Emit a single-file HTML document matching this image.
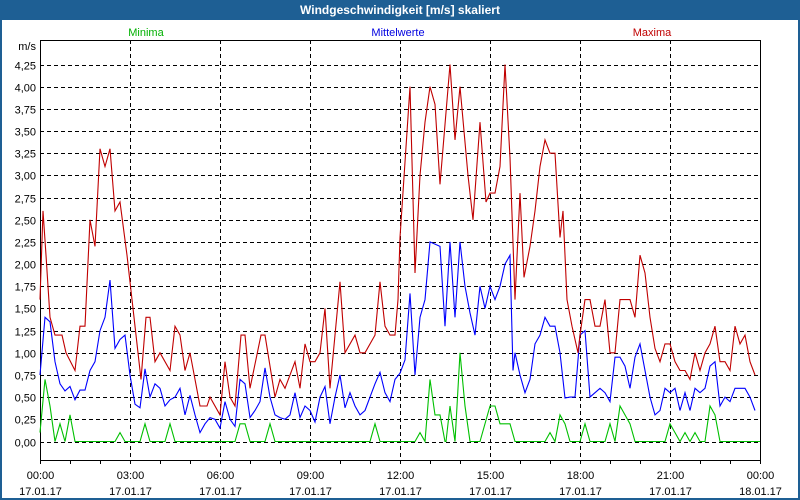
<!DOCTYPE html>
<html><head><meta charset="utf-8"><style>
html,body{margin:0;padding:0;background:#fff}
#wrap{position:relative;width:800px;height:500px;box-sizing:border-box;border:2px solid #1e5f94;border-top:none;background:#fff;overflow:hidden}
#title{position:absolute;left:0;top:0;width:796px;height:20px;background:#1e5f94;color:#fff;font:bold 12px "Liberation Sans",sans-serif;text-align:center;line-height:20px}
svg{position:absolute;left:-2px;top:0}
text{font-family:"Liberation Sans",sans-serif;font-size:11px}
</style></head><body>
<div id="wrap">
<div id="title">Windgeschwindigkeit [m/s] skaliert</div>
<svg id="chart" width="800" height="500"></svg>
</div>
<script>
const yTicks=[0,0.25,0.5,0.75,1,1.25,1.5,1.75,2,2.25,2.5,2.75,3,3.25,3.5,3.75,4,4.25];
const xTickHours=[0,3,6,9,12,15,18,21,24];
const xTickTimes=["00:00","03:00","06:00","09:00","12:00","15:00","18:00","21:00","00:00"];
const xTickDates=["17.01.17","17.01.17","17.01.17","17.01.17","17.01.17","17.01.17","17.01.17","17.01.17","18.01.17"];
const maxT=[0,6,12,20,30,44,52,70,80,90,100,110,120,130,140,150,160,174,186,202,212,220,230,240,260,270,280,290,300,320,334,340,360,370,380,390,402,410,420,442,450,470,480,490,510,520,530,540,550,560,570,580,600,610,630,640,650,670,680,690,700,710,716,720,740,750,760,770,780,790,800,820,830,840,856,866,880,892,900,910,920,930,940,950,960,968,980,990,1000,1010,1020,1030,1040,1046,1054,1064,1076,1080,1090,1100,1110,1120,1130,1140,1150,1160,1180,1190,1200,1210,1220,1230,1240,1250,1260,1270,1280,1290,1300,1310,1320,1330,1340,1350,1360,1370,1380,1390,1400,1410,1420,1430];
const maxV=[1.6,2.6,2.1,1.4,1.2,1.2,1.0,0.8,1.3,1.3,2.5,2.2,3.3,3.1,3.3,2.6,2.7,2.1,1.5,0.7,1.4,1.4,0.9,1.0,0.8,1.3,1.2,0.8,1.0,0.4,0.4,0.5,0.3,0.9,0.5,0.4,1.2,1.2,0.6,1.2,1.2,0.5,0.7,0.6,0.9,0.6,1.1,0.9,0.9,1.0,1.5,0.6,1.8,1.0,1.2,1.0,1.0,1.2,1.8,1.3,1.2,1.2,1.6,2.3,4.0,1.9,3.0,3.6,4.0,3.8,2.9,4.25,3.4,4.0,3.0,2.5,3.6,2.7,2.8,2.8,3.1,4.25,3.2,1.6,2.8,1.85,2.2,2.6,3.1,3.4,3.25,3.25,2.3,2.6,1.6,1.3,1.0,1.2,1.6,1.6,1.3,1.3,1.6,1.0,1.0,1.6,1.6,1.4,2.1,1.9,1.4,1.05,0.9,1.1,1.1,0.9,0.8,0.8,0.7,1.0,0.8,1.0,1.1,1.3,0.9,0.9,0.8,1.3,1.1,1.2,0.9,0.75];
const meanT=[0,10,20,30,40,50,60,70,80,90,100,110,120,130,140,150,160,170,180,190,200,210,220,230,240,250,260,270,280,290,300,310,320,330,340,350,360,370,380,390,400,410,420,430,440,450,460,470,480,490,500,510,520,530,540,550,560,570,580,590,600,610,620,630,640,650,660,670,680,690,700,710,720,730,740,750,760,770,780,800,810,820,830,840,850,860,870,880,890,900,910,920,930,940,946,950,960,970,980,990,1000,1010,1020,1030,1040,1050,1060,1070,1080,1090,1100,1110,1120,1130,1140,1150,1160,1170,1180,1190,1200,1210,1220,1230,1240,1250,1260,1270,1280,1290,1300,1310,1320,1330,1340,1350,1360,1370,1380,1390,1400,1410,1420,1430];
const meanV=[0.75,1.4,1.35,0.9,0.65,0.57,0.62,0.47,0.58,0.58,0.8,0.9,1.25,1.4,1.82,1.05,1.15,1.2,0.75,0.42,0.38,0.82,0.5,0.65,0.6,0.4,0.47,0.5,0.6,0.3,0.52,0.3,0.1,0.2,0.27,0.25,0.15,0.45,0.25,0.17,0.7,0.65,0.27,0.35,0.45,0.83,0.5,0.3,0.27,0.25,0.3,0.55,0.27,0.4,0.35,0.22,0.5,0.62,0.2,0.5,0.75,0.38,0.55,0.4,0.3,0.35,0.5,0.65,0.78,0.55,0.45,0.7,0.77,0.92,1.67,0.75,1.4,1.6,2.25,2.2,1.3,2.25,1.4,2.25,1.75,1.45,1.2,1.75,1.5,1.75,1.6,1.75,2.0,2.1,0.8,1.0,0.75,0.55,0.7,1.1,1.2,1.4,1.3,1.3,1.0,0.49,0.5,0.5,1.2,1.25,0.5,0.55,0.6,0.55,0.45,0.95,0.95,0.85,0.6,0.95,1.1,0.8,0.5,0.3,0.35,0.6,0.55,0.6,0.35,0.55,0.35,0.6,0.55,0.6,0.85,0.9,0.4,0.5,0.45,0.6,0.6,0.6,0.5,0.35];
const minT=[0,10,20,30,40,50,60,70,80,150,160,170,200,210,220,250,260,270,390,400,410,420,450,460,470,660,670,680,750,760,770,780,790,800,810,812,820,830,840,850,860,880,900,910,920,940,950,1010,1020,1030,1040,1050,1060,1080,1090,1100,1130,1140,1150,1160,1170,1180,1190,1250,1260,1270,1280,1290,1300,1310,1320,1330,1340,1350,1360,1440];
const minV=[0.1,0.7,0.4,0.0,0.2,0.0,0.3,0.0,0.0,0.0,0.1,0.0,0.0,0.2,0.0,0.0,0.2,0.0,0.0,0.2,0.2,0.0,0.0,0.2,0.0,0.0,0.2,0.0,0.0,0.1,0.0,0.7,0.3,0.3,0.0,0.0,0.4,0.0,1.0,0.4,0.0,0.0,0.4,0.4,0.2,0.2,0.0,0.0,0.1,0.0,0.3,0.2,0.0,0.0,0.2,0.0,0.0,0.2,0.0,0.4,0.3,0.2,0.0,0.0,0.2,0.1,0.0,0.1,0.0,0.1,0.0,0.0,0.4,0.3,0.0,0.0];

const NS="http://www.w3.org/2000/svg";
const svg=document.getElementById('chart');
const X0=40,X1=760,Y0=441.5,YPER=88.7,TOP=40,BOT=460;
function xMin(m){return X0+(m/1440)*(X1-X0);}
function xHour(h){return xMin(h*60);}
function yVal(v){return Y0-v*YPER;}
function mk(tag,attrs){const e=document.createElementNS(NS,tag);for(const k in attrs)e.setAttribute(k,attrs[k]);svg.appendChild(e);return e;}

yTicks.forEach((v,i)=>{
  const y=Math.round(yVal(v))+0.5;
  const g=mk('line',{x1:X0,x2:X1,y1:y,y2:y,stroke:'#000','stroke-dasharray':'4,3','stroke-width':1});
  
  
  const t=mk('text',{x:X0-4,y:y+4,'text-anchor':'end',fill:'#000'});
  t.textContent=v.toFixed(2).replace('.',',');
  
  
});
xTickHours.forEach((h,i)=>{
  const x=Math.round(xHour(h))+0.5;
  if(i>0&&i<xTickHours.length-1){
    const g=mk('line',{x1:x,x2:x,y1:TOP,y2:BOT,stroke:'#000','stroke-dasharray':'4,3'});
    
    
  }
  const t1=mk('text',{x:x,y:479,'text-anchor':'middle',fill:'#000'});
  t1.textContent=xTickTimes[i];
  
  
  const t2=mk('text',{x:x,y:495,'text-anchor':'middle',fill:'#000'});
  t2.textContent=xTickDates[i];
  
  
});
for(let h=0;h<=24;h++){
  const x=Math.round(xHour(h))+0.5;
  const tk=mk('line',{x1:x,x2:x,y1:BOT,y2:BOT+4,stroke:'#000'});
  
  
}
const frame=mk('rect',{x:X0+0.5,y:TOP+0.5,width:X1-X0,height:BOT-TOP,fill:'none',stroke:'#000'});



function series(T,V,color,name){
  const pts=T.map((m,i)=>xMin(m).toFixed(1)+','+yVal(V[i]).toFixed(1)).join(' ');
  const p=mk('polyline',{points:pts,fill:'none',stroke:color,'stroke-width':1.1});
  
  
}
series(minT,minV,'#00c000','minima-line');
series(meanT,meanV,'#0000ff','mean-line');
series(maxT,maxV,'#c00000','maxima-line');

const u=mk('text',{x:36,y:50,'text-anchor':'end',fill:'#000'});
u.textContent='m/s';


[['Minima',146,'#00b000','legend-minima'],['Mittelwerte',398,'#0000e0','legend-mean'],['Maxima',652,'#c00000','legend-maxima']].forEach(l=>{
  const t=mk('text',{x:l[1],y:36,'text-anchor':'middle',fill:l[2]});
  t.textContent=l[0];
  
  
});
</script>
</body></html>
